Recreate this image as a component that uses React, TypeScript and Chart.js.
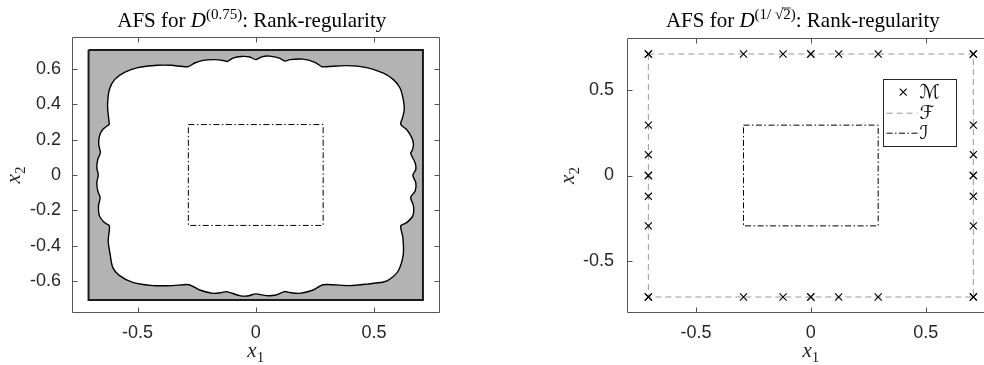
import React, { useEffect, useRef } from "react";
import { Chart, registerables } from "chart.js";
Chart.register(...registerables);

type Pt = [number, number];

// ---------- LEFT CHART DATA ----------
const AFS_BOUNDARY: Pt[] = [
  [-0.619, 0.286], [-0.626, 0.372], [-0.626, 0.417], [-0.619, 0.483], [-0.597, 0.539],
  [-0.555, 0.58], [-0.499, 0.607], [-0.414, 0.62], [-0.357, 0.62], [-0.287, 0.612],
  [-0.258, 0.633], [-0.223, 0.648], [-0.174, 0.652], [-0.138, 0.647], [-0.12, 0.642],
  [-0.096, 0.661], [-0.061, 0.67], [-0.025, 0.667], [0.0, 0.652], [0.025, 0.668],
  [0.059, 0.672], [0.1, 0.661], [0.123, 0.644], [0.144, 0.652], [0.2, 0.655],
  [0.25, 0.637], [0.28, 0.612], [0.3, 0.612], [0.384, 0.618], [0.469, 0.607],
  [0.54, 0.576], [0.582, 0.539], [0.61, 0.492], [0.624, 0.426], [0.628, 0.37],
  [0.622, 0.33], [0.613, 0.286],
  [0.638, 0.257], [0.66, 0.21], [0.667, 0.173], [0.662, 0.14], [0.655, 0.122],
  [0.674, 0.069], [0.677, 0.032], [0.664, -0.002], [0.677, -0.045], [0.674, -0.09],
  [0.655, -0.127], [0.667, -0.175], [0.664, -0.231], [0.638, -0.269], [0.613, -0.287],
  [0.622, -0.353], [0.624, -0.447], [0.603, -0.541], [0.568, -0.588], [0.54, -0.605],
  [0.469, -0.617], [0.398, -0.625], [0.285, -0.62],
  [0.243, -0.65], [0.186, -0.669], [0.145, -0.665], [0.123, -0.659], [0.08, -0.68],
  [0.045, -0.682], [0.0, -0.672], [-0.035, -0.684], [-0.068, -0.682], [-0.124, -0.659],
  [-0.145, -0.665], [-0.181, -0.669], [-0.237, -0.65], [-0.283, -0.62],
  [-0.35, -0.625], [-0.435, -0.625], [-0.52, -0.607], [-0.576, -0.569], [-0.605, -0.522],
  [-0.616, -0.447], [-0.624, -0.372], [-0.619, -0.287],
  [-0.64, -0.269], [-0.661, -0.231], [-0.665, -0.175], [-0.658, -0.128], [-0.668, -0.09],
  [-0.672, -0.043], [-0.666, 0.0], [-0.672, 0.041], [-0.668, 0.088], [-0.657, 0.126],
  [-0.664, 0.173], [-0.661, 0.22], [-0.647, 0.257], [-0.619, 0.286],
];
const GRAY_SQUARE: Pt[] = [[-0.707, 0.707], [0.707, 0.707], [0.707, -0.707], [-0.707, -0.707], [-0.707, 0.707]];
const INNER_RECT_LEFT: Pt[] = [[-0.285, 0.285], [0.285, 0.285], [0.285, -0.285], [-0.285, -0.285], [-0.285, 0.285]];

const LEFT_X_TICKS = [-0.5, 0, 0.5];
const LEFT_X_LABELS = ["-0.5", "0", "0.5"];
const LEFT_Y_TICKS = [-0.6, -0.4, -0.2, 0, 0.2, 0.4, 0.6];
const LEFT_Y_LABELS = ["-0.6", "-0.4", "-0.2", "0", "0.2", "0.4", "0.6"];

// ---------- RIGHT CHART DATA ----------
const M_POINTS: Pt[] = [
  [-0.707, 0.707], [-0.293, 0.707], [-0.121, 0.707], [0, 0.707], [0.121, 0.707], [0.293, 0.707], [0.707, 0.707],
  [-0.707, -0.707], [-0.293, -0.707], [-0.121, -0.707], [0, -0.707], [0.121, -0.707], [0.293, -0.707], [0.707, -0.707],
  [-0.707, -0.293], [-0.707, -0.121], [-0.707, 0], [-0.707, 0.121], [-0.707, 0.293],
  [0.707, -0.293], [0.707, -0.121], [0.707, 0], [0.707, 0.121], [0.707, 0.293],
  [0, 0.707], [0, -0.707], [-0.707, 0], [0.707, 0],
  [-0.707, 0.707], [0.707, 0.707], [-0.707, -0.707], [0.707, -0.707],
];
const F_SQUARE: Pt[] = [[-0.707, 0.707], [0.707, 0.707], [0.707, -0.707], [-0.707, -0.707], [-0.707, 0.707]];
const I_RECT_RIGHT: Pt[] = [[-0.293, 0.293], [0.293, 0.293], [0.293, -0.293], [-0.293, -0.293], [-0.293, 0.293]];

const RIGHT_X_TICKS = [-0.5, 0, 0.5];
const RIGHT_X_LABELS = ["-0.5", "0", "0.5"];
const RIGHT_Y_TICKS = [-0.5, 0, 0.5];
const RIGHT_Y_LABELS = ["-0.5", "0", "0.5"];
const LEGEND_LABELS = ["\u2133", "\u2131", "\u2110"];

// ---------- helpers ----------
type Seg = { t: string; font: string; dy?: number; overline?: boolean };
const SERIF = "'Liberation Serif', 'Times New Roman', serif";
const SANS = "'Liberation Sans', Arial, sans-serif";

function drawRich(ctx: CanvasRenderingContext2D, segs: Seg[], cx: number, y: number) {
  let w = 0;
  for (const s of segs) { ctx.font = s.font; w += ctx.measureText(s.t).width; }
  let x = cx - w / 2;
  ctx.textAlign = "left";
  ctx.textBaseline = "alphabetic";
  for (const s of segs) {
    ctx.font = s.font;
    const sw = ctx.measureText(s.t).width;
    ctx.fillText(s.t, x, y + (s.dy || 0));
    if (s.overline) {
      ctx.save();
      ctx.lineWidth = 0.8;
      ctx.strokeStyle = ctx.fillStyle as string;
      ctx.beginPath();
      const oy = y + (s.dy || 0) - 11;
      ctx.moveTo(x - 1, oy);
      ctx.lineTo(x + sw, oy);
      ctx.stroke();
      ctx.restore();
    }
    x += sw;
  }
}

function toXY(p: Pt[]) { return p.map(([x, y]) => ({ x, y })); }

function scaleCfg(min: number, max: number, ticks: number[], labels: string[], axis: "x" | "y", size: number, pad: number) {
  return {
    type: "linear" as const,
    min, max,
    grid: { display: false, drawTicks: false },
    border: { display: false },
    ticks: {
      color: "#262626",
      font: { family: SANS, size: 18 },
      padding: pad,
      autoSkip: false,
      maxRotation: 0,
      callback: (v: any) => { const i = ticks.findIndex((t) => Math.abs(t - v) < 1e-9); return i >= 0 ? labels[i] : ""; },
    },
    afterBuildTicks: (s: any) => { s.ticks = ticks.map((v) => ({ value: v })); },
    afterFit: (s: any) => { if (axis === "x") s.height = size; else s.width = size; },
  };
}

function decorPlugin(cfg: { title: Seg[]; titleDx: number; titleY: number; xLabelY: number; yLabelX: number; legend?: boolean }) {
  return {
    id: "decor",
    afterDraw(chart: any) {
      const { ctx, chartArea: a, scales } = chart;
      ctx.save();
      // axes box
      ctx.strokeStyle = "#555555";
      ctx.lineWidth = 1;
      const L = Math.round(a.left) + 0.5, T = Math.round(a.top) + 0.5, R = Math.round(a.right) - 0.5, B = Math.round(a.bottom) - 0.5;
      ctx.beginPath();
      ctx.moveTo(L, T); ctx.lineTo(R, T); ctx.lineTo(R, B); ctx.lineTo(L, B); ctx.closePath();
      ctx.stroke();
      const tl = 5;
      ctx.beginPath();
      for (const t of scales.x.ticks) {
        const px = Math.round(scales.x.getPixelForValue(t.value)) + 0.5;
        ctx.moveTo(px, B); ctx.lineTo(px, B - tl);
        ctx.moveTo(px, T); ctx.lineTo(px, T + tl);
      }
      for (const t of scales.y.ticks) {
        const py = Math.round(scales.y.getPixelForValue(t.value)) + 0.5;
        ctx.moveTo(L, py); ctx.lineTo(L + tl, py);
        ctx.moveTo(R, py); ctx.lineTo(R - tl, py);
      }
      ctx.stroke();

      // title
      ctx.fillStyle = "#000000";
      drawRich(ctx, cfg.title, (a.left + a.right) / 2 + cfg.titleDx, cfg.titleY);

      // x label
      ctx.fillStyle = "#262626";
      const xl: Seg[] = [
        { t: "x", font: `italic 21px ${SERIF}` },
        { t: "1", font: `15px ${SERIF}`, dy: 5 },
      ];
      drawRich(ctx, xl, (a.left + a.right) / 2, cfg.xLabelY);
      // y label
      const yl: Seg[] = [
        { t: "x", font: `italic 21px ${SERIF}` },
        { t: "2", font: `15px ${SERIF}`, dy: 5 },
      ];
      ctx.save();
      ctx.translate(cfg.yLabelX, (a.top + a.bottom) / 2);
      ctx.rotate(-Math.PI / 2);
      drawRich(ctx, yl, 0, 0);
      ctx.restore();

      if (cfg.legend) {
        const bx = Math.round(a.right - 38.7 - 73) + 0.5;
        const by = Math.round(a.top + 41) + 0.5;
        const bw = 73, bh = 67;
        ctx.fillStyle = "#ffffff";
        ctx.fillRect(bx, by, bw, bh);
        ctx.strokeStyle = "#262626";
        ctx.lineWidth = 1;
        ctx.strokeRect(bx, by, bw, bh);
        const rows = [by + 12.7, by + 33.7, by + 53.7];
        // marker
        const mx = bx + 19.7, my = rows[0];
        ctx.strokeStyle = "#000";
        ctx.lineWidth = 1.1;
        ctx.beginPath();
        ctx.moveTo(mx - 3.5, my - 3.5); ctx.lineTo(mx + 3.5, my + 3.5);
        ctx.moveTo(mx + 3.5, my - 3.5); ctx.lineTo(mx - 3.5, my + 3.5);
        ctx.stroke();
        // F line
        ctx.strokeStyle = "#999999";
        ctx.lineWidth = 1;
        ctx.setLineDash([6, 4]);
        ctx.beginPath(); ctx.moveTo(bx + 3, rows[1]); ctx.lineTo(bx + 34, rows[1]); ctx.stroke();
        // I line
        ctx.strokeStyle = "#000";
        ctx.setLineDash([6, 2.5, 1.5, 2.5]);
        ctx.beginPath(); ctx.moveTo(bx + 3, rows[2]); ctx.lineTo(bx + 34, rows[2]); ctx.stroke();
        ctx.setLineDash([]);
        ctx.fillStyle = "#000";
        ctx.textAlign = "left";
        ctx.textBaseline = "middle";
        ctx.font = `italic 19px 'DejaVu Serif', 'DejaVu Sans', serif`;
        ctx.fillText(LEGEND_LABELS[0], bx + 36, rows[0] + 1);
        ctx.fillText(LEGEND_LABELS[1], bx + 36, rows[1] + 1);
        ctx.fillText(LEGEND_LABELS[2], bx + 36, rows[2] + 1);
      }
      ctx.restore();
    },
  };
}

function LeftChart() {
  const ref = useRef<HTMLCanvasElement>(null);
  useEffect(() => {
    const chart = new Chart(ref.current!, {
      type: "scatter",
      data: {
        datasets: [
          {
            data: toXY(GRAY_SQUARE), showLine: true, fill: "shape" as any,
            backgroundColor: "#b3b3b3", borderColor: "#1a1a1a", borderWidth: 2,
            pointRadius: 0, tension: 0, order: 3,
          },
          {
            data: toXY(AFS_BOUNDARY), showLine: true, fill: "shape" as any,
            backgroundColor: "#ffffff", borderColor: "#000000", borderWidth: 1.4,
            pointRadius: 0, tension: 0.25, order: 2,
          },
          {
            data: toXY(INNER_RECT_LEFT), showLine: true, fill: false,
            borderColor: "#000000", borderWidth: 1, borderDash: [6, 2.5, 1.5, 2.5],
            pointRadius: 0, tension: 0, order: 1,
          },
        ],
      },
      options: {
        responsive: false,
        animation: false,
        layout: { padding: { left: 0, right: 30.5, top: 37, bottom: 0 } },
        plugins: { legend: { display: false }, tooltip: { enabled: false }, title: { display: false } },
        scales: {
          x: scaleCfg(-0.777, 0.777, LEFT_X_TICKS, LEFT_X_LABELS, "x", 52, 9) as any,
          y: scaleCfg(-0.78, 0.78, LEFT_Y_TICKS, LEFT_Y_LABELS, "y", 72, 11) as any,
        },
      },
      plugins: [
        decorPlugin({
          title: [
            { t: "AFS for ", font: `21px ${SERIF}` },
            { t: "D", font: `italic 21px ${SERIF}` },
            { t: "(0.75)", font: `15px ${SERIF}`, dy: -8 },
            { t: ": Rank-regularity", font: `21px ${SERIF}` },
          ],
          titleDx: -4,
          titleY: 27,
          xLabelY: 357,
          yLabelX: 20,
        }) as any,
      ],
    });
    return () => chart.destroy();
  }, []);
  return <canvas ref={ref} width={470} height={365} style={{ position: "absolute", left: 0, top: 0, width: 470, height: 365 }} />;
}

function RightChart() {
  const ref = useRef<HTMLCanvasElement>(null);
  useEffect(() => {
    const chart = new Chart(ref.current!, {
      type: "scatter",
      data: {
        datasets: [
          {
            data: toXY(F_SQUARE), showLine: true, fill: false,
            borderColor: "#999999", borderWidth: 1, borderDash: [6, 4],
            pointRadius: 0, tension: 0, order: 3,
          },
          {
            data: toXY(I_RECT_RIGHT), showLine: true, fill: false,
            borderColor: "#000000", borderWidth: 1, borderDash: [6, 2.5, 1.5, 2.5],
            pointRadius: 0, tension: 0, order: 2,
          },
          {
            data: toXY(M_POINTS), showLine: false,
            pointStyle: "crossRot", pointRadius: 5, borderColor: "#000000", pointBorderWidth: 1.1,
            backgroundColor: "#000000", order: 1,
          },
        ],
      },
      options: {
        responsive: false,
        animation: false,
        layout: { padding: { left: 0, right: 45.3, top: 38, bottom: 0 } },
        plugins: { legend: { display: false }, tooltip: { enabled: false }, title: { display: false } },
        scales: {
          x: scaleCfg(-0.8, 0.8, RIGHT_X_TICKS, RIGHT_X_LABELS, "x", 52, 9) as any,
          y: scaleCfg(-0.8, 0.8, RIGHT_Y_TICKS, RIGHT_Y_LABELS, "y", 107, 13) as any,
        },
      },
      plugins: [
        decorPlugin({
          title: [
            { t: "AFS for ", font: `21px ${SERIF}` },
            { t: "D", font: `italic 21px ${SERIF}` },
            { t: "(1/ ", font: `15px ${SERIF}`, dy: -8 },
            { t: "\u221A", font: `15px ${SERIF}`, dy: -8 },
            { t: "2", font: `15px ${SERIF}`, dy: -8, overline: true },
            { t: ")", font: `15px ${SERIF}`, dy: -8 },
            { t: ": Rank-regularity", font: `21px ${SERIF}` },
          ],
          titleDx: -8,
          titleY: 27,
          xLabelY: 357,
          yLabelX: 54,
          legend: true,
        }) as any,
      ],
    });
    return () => chart.destroy();
  }, []);
  return <canvas ref={ref} width={520} height={365} style={{ position: "absolute", left: 520, top: 0, width: 520, height: 365 }} />;
}

export default function App() {
  return (
    <div style={{ position: "fixed", left: 0, top: 0, width: 984, height: 365, overflow: "hidden", background: "#ffffff" }}>
      <LeftChart />
      <RightChart />
    </div>
  );
}
